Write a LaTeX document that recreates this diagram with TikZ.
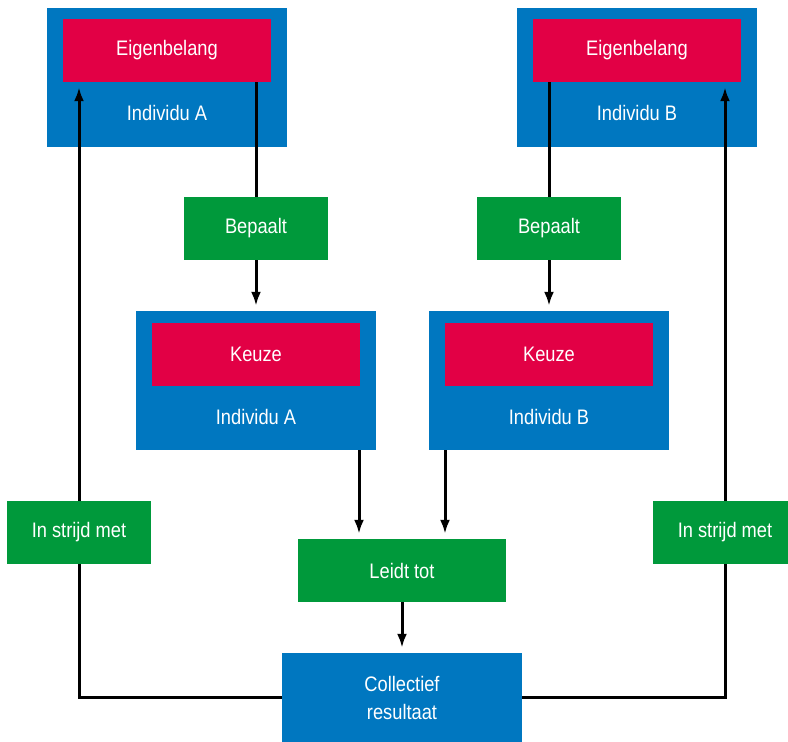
\documentclass[tikz,border=0pt]{standalone}
\usepackage{fontspec}
\setmainfont[FakeStretch=0.87]{Liberation Sans}
\usetikzlibrary{positioning}
\usetikzlibrary{arrows.meta}

\definecolor{persoon}{RGB}{0,119,192}
\definecolor{belang}{RGB}{226,0,69}
\definecolor{relatie}{RGB}{0,153,59}

\tikzset{
  individu/.style={fill=persoon, minimum width=240pt, minimum height=139pt, inner sep=0pt},
  motief/.style={fill=belang, text=white, minimum width=208pt, minimum height=63pt, inner sep=0pt},
  werking/.style={fill=relatie, text=white, minimum width=144pt, minimum height=63pt, inner sep=0pt},
  naam/.style={text=white},
  pijl/.style={line width=3pt, -{Latex[length=14pt,width=10pt]}, shorten >=5pt},
  lijn/.style={line width=3pt}
}

\begin{document}
\begin{tikzpicture}[x=1pt, y=-1pt, font=\fontsize{21}{28}\selectfont]
    \useasboundingbox (0,0) rectangle (788,742);

    % bovenste individuen
    \node[individu] (persA) at (167,77.5) {};
    \node[motief] (belangA) at (167,50.5) {Eigenbelang};
    \node[naam] (naamA) at (167,113) {Individu A};

    \node[individu] (persB) at (637,77.5) {};
    \node[motief] (belangB) at (637,50.5) {Eigenbelang};
    \node[naam] (naamB) at (637,113) {Individu B};

    % bepaalt
    \node[werking] (bepA) at (256,228.5) {Bepaalt};
    \node[werking] (bepB) at (549,228.5) {Bepaalt};

    % keuzes
    \node[individu] (keuzeboxA) at (256,380.5) {};
    \node[motief] (keuzeA) at (256,354.5) {Keuze};
    \node[naam] (knaamA) at (256,417) {Individu A};

    \node[individu] (keuzeboxB) at (549,380.5) {};
    \node[motief] (keuzeB) at (549,354.5) {Keuze};
    \node[naam] (knaamB) at (549,417) {Individu B};

    % onderste deel
    \node[werking] (strijdA) at (79,532.5) {In strijd met};
    \node[werking] (strijdB) at (725,532.5) {In strijd met};
    \node[werking, minimum width=208pt] (leidt) at (402,570.5) {Leidt tot};
    \node[individu, minimum height=89pt, text=white, align=center] (coll) at (402,697.5) {Collectief\\resultaat};

    % verbindingen
    \draw[lijn] (belangA.south -| bepA) -- (bepA.north);
    \draw[pijl] (bepA.south) -- (keuzeboxA.north);
    \draw[lijn] (belangB.south -| bepB) -- (bepB.north);
    \draw[pijl] (bepB.south) -- (keuzeboxB.north);

    \draw[pijl] ([xshift=103pt]keuzeboxA.south) -- ([xshift=103pt]keuzeboxA.south |- leidt.north);
    \draw[pijl] ([xshift=-104pt]keuzeboxB.south) -- ([xshift=-104pt]keuzeboxB.south |- leidt.north);
    \draw[pijl] (leidt.south) -- (coll.north);

    \draw[lijn] (coll.west) -| (strijdA.south);
    \draw[pijl] (strijdA.north) -- (strijdA.north |- belangA.south);
    \draw[lijn] (coll.east) -| (strijdB.south);
    \draw[pijl] (strijdB.north) -- (strijdB.north |- belangB.south);

\end{tikzpicture}
\end{document}
